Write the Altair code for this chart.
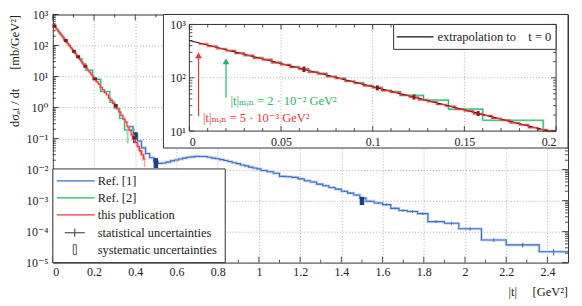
import altair as alt
import numpy as np
import pandas as pd

FONT = "Liberation Serif, DejaVu Serif, Times New Roman, serif"
BLUE, BLUE_L, BLUE_D = "#3d6cc0", "#a8bfe6", "#1d3f82"
GREEN, GREEN_L = "#27b56a", "#8fddb3"
RED, RED_L, RED_D = "#e8363c", "#f5a5a5", "#8c1a1f"
INK = "#222222"
FS = 12
SP = "\u00a0"

# ---------------- data ----------------
# this publication (red): histogram bins |t| [GeV^2] and dsigma/dt [mb/GeV^2]
red_edges = [round(x, 3) for x in np.arange(0.005, 0.2001, 0.005)] + \
            [round(x, 2) for x in np.arange(0.21, 0.4501, 0.01)]
red_vals = [430, 392, 350, 322, 286, 262, 233, 216, 191, 176, 157, 145, 128, 118, 105,
            97, 86, 79, 70.5, 65, 57.5, 53, 47, 43.5, 38.5, 35.5, 31.5, 29.2, 25.8, 23.9,
            21.1, 19.6, 17.3, 16.0, 14.2, 13.1, 11.6, 10.7, 9.5,
            8.4, 6.7, 5.7, 4.5, 3.75, 3.0, 2.55, 2.0, 1.7, 1.35, 1.15, 0.90, 0.72, 0.56,
            0.42, 0.34, 0.24, 0.185, 0.13, 0.105, 0.075, 0.055, 0.040, 0.030, 0.022]
red_stat_t = [0.355, 0.365, 0.375, 0.385, 0.395, 0.405, 0.415, 0.425, 0.435, 0.445]
red_stat_lo = [0.30, 0.21, 0.16, 0.11, 0.085, 0.058, 0.041, 0.028, 0.019, 0.012]
red_stat_hi = [0.38, 0.27, 0.21, 0.15, 0.125, 0.092, 0.070, 0.053, 0.042, 0.033]
red_sys_t = [0.0075, 0.0625, 0.1025, 0.1225, 0.1575, 0.205, 0.305, 0.395]
red_sys_lo = [385, 128, 58, 39, 19.2, 7.5, 1.0, 0.092]
red_sys_hi = [480, 162, 72, 48.5, 23.8, 9.4, 1.3, 0.12]

# Ref. [2] (green)
green_edges = [round(x, 3) for x in np.arange(0.02, 0.1151, 0.005)] + \
              [0.1277, 0.1413, 0.160, 0.193, 0.232, 0.276, 0.300, 0.324, 0.348, 0.397]
green_vals = [322, 296, 258, 240, 222, 198, 176, 162, 146, 128, 121, 107, 99, 86, 81,
              72, 66, 58, 55, 47, 38, 25.8, 16, 8.1, 3.3, 1.5, 0.95, 0.45, 0.19]
green_err_t = [0.363]
green_err_lo = [0.07]
green_err_hi = [0.21]

# Ref. [1] (blue)
blue_edges = [0.37, 0.39, 0.41, 0.43, 0.45, 0.47, 0.49, 0.51, 0.53, 0.55, 0.57, 0.59,
              0.61, 0.63, 0.65, 0.67, 0.69, 0.71, 0.73, 0.75, 0.77, 0.79, 0.81, 0.83,
              0.85, 0.87, 0.89, 0.91, 0.93, 0.95, 0.97, 0.99, 1.01, 1.04, 1.07, 1.10,
              1.13, 1.16, 1.19, 1.22, 1.25, 1.28, 1.31, 1.34, 1.37, 1.40, 1.43, 1.46,
              1.49, 1.52, 1.56, 1.60, 1.64, 1.68, 1.72, 1.77, 1.82, 1.90, 1.97, 2.08,
              2.20, 2.36, 2.50]
blue_vals = [0.240, 0.141, 0.0832, 0.0501, 0.0331, 0.0240, 0.0182, 0.0158, 0.0162,
             0.0174, 0.0191, 0.0204, 0.0219, 0.0234, 0.0251, 0.0257, 0.0269, 0.0263,
             0.0263, 0.0251, 0.0234, 0.0224, 0.0209, 0.0195, 0.0182, 0.0166, 0.0155,
             0.0141, 0.0132, 0.0120, 0.0112, 0.0105,
             0.00933, 0.00851, 0.00759, 0.00603, 0.00589, 0.00562, 0.00501, 0.00437,
             0.00398, 0.00339, 0.00302, 0.00263, 0.00234, 0.00200, 0.00174, 0.00151,
             0.00120,
             0.000955, 0.000832, 0.000741, 0.000562, 0.000479, 0.000447, 0.000380,
             0.000209, 0.000186, 0.000123, 0.0000537, 0.0000372, 0.0000224]
blue_stat_rel = [0.03, 0.03, 0.03, 0.035, 0.035, 0.035, 0.04, 0.04, 0.04, 0.045, 0.045,
                 0.05, 0.05, 0.055, 0.055, 0.06, 0.06, 0.065, 0.07, 0.07, 0.08, 0.08,
                 0.09, 0.09, 0.10, 0.11, 0.12, 0.14, 0.18, 0.25]
blue_sys_t = [0.40, 0.50, 1.50]
blue_sys_lo = [0.071, 0.0112, 0.00072]
blue_sys_hi = [0.16, 0.0234, 0.00132]

# extrapolation to t = 0 (black, inset)
extrap_t = [0.0, 0.196]
extrap_v = [500, 9.9]

# |t|_min arrows (inset)
arrow_t = [0.005, 0.020]
arrow_lo = [19, 42]
arrow_hi = [263, 204]
arrow_col = [RED, GREEN]
note_t = [0.0075, 0.0224]
note_v = [17.5, 36]
note_txt = ["|t|ₘᵢₙ = 5 · 10⁻³ GeV²", "|t|ₘᵢₙ = 2 · 10⁻² GeV²"]

legend_labels = ["Ref. [1]", "Ref. [2]", "this publication",
                 "statistical uncertainties", "systematic uncertainties"]
inset_legend_label = "extrapolation to" + SP * 4 + "t = 0"
x_title = "|t|" + SP * 5 + "[GeV²]"
y_title = "dσₑₗ / dt" + SP * 6 + "[mb/GeV²]"

main_x_major = [round(0.2 * i, 1) for i in range(13)]
main_x_minor = [round(0.1 + 0.2 * i, 1) for i in range(12)]
main_y_exps = list(range(-5, 4))
inset_x_major = [0, 0.05, 0.1, 0.15, 0.2]
inset_x_minor = [round(0.01 * i, 2) for i in range(1, 20) if i % 5]
inset_y_exps = [1, 2, 3]

# ---------------- helpers ----------------
W, H = 517, 249
IX0, IX1, IY0, IY1 = 137, 505, 117, 10   # inset plot area inside main plot (px)


def step_df(edges, vals):
    return pd.DataFrame({"t": list(edges[:-1]) + [edges[-1]],
                         "v": list(vals) + [vals[-1]]})


def clip_step(df, tmax):
    keep = df[df.t < tmax]
    return pd.concat([keep, pd.DataFrame({"t": [tmax], "v": [keep.v.iloc[-1]]})],
                     ignore_index=True)


sup = str.maketrans("-0123456789", "⁻⁰¹²³⁴⁵⁶⁷⁸⁹")


def log_expr(exps):
    parts = [f"datum.value < {3 * 10.0 ** e:g} ? '10{str(e).translate(sup)}'" for e in exps]
    return " : ".join(parts) + " : ''"


def minors(exps):
    return [k * 10.0 ** e for e in exps[:-1] for k in range(2, 10)]


sx = alt.Scale(domain=[0, 2.5], nice=False, zero=False)
sy = alt.Scale(type="log", domain=[1e-5, 1e3], nice=False)
ax_x = alt.Axis(values=main_x_major, format="~g", grid=True, ticks=False, domain=False,
                labelPadding=4, title=None)
ax_y = alt.Axis(values=[10.0 ** e for e in main_y_exps], labelExpr=log_expr(main_y_exps),
                grid=True, ticks=False, domain=False, labelPadding=5,
                title=y_title, titleAnchor="end", titleAlign="right",
                titleFontWeight="normal", titlePadding=4)

isx = alt.Scale(domain=[0, 0.2], range=[IX0, IX1], nice=False, zero=False)
isy = alt.Scale(type="log", domain=[10, 1000], range=[IY0, IY1], nice=False, clamp=True)
iax_x = alt.Axis(values=inset_x_major, format="~g", grid=False, ticks=False, domain=False,
                 orient="bottom", offset=-(H - IY0), labelPadding=5, title=None, zindex=1)
iax_y = alt.Axis(values=[10.0 ** e for e in inset_y_exps], labelExpr=log_expr(inset_y_exps),
                 grid=False, ticks=False, domain=False, orient="left", offset=-IX0,
                 labelPadding=4, title=None, zindex=1)


def mx(f):
    return alt.X(f, type="quantitative", scale=sx, axis=ax_x)


def my(f):
    return alt.Y(f, type="quantitative", scale=sy, axis=ax_y)


def ix(f):
    return alt.X(f, type="quantitative", scale=isx, axis=iax_x)


def iy(f):
    return alt.Y(f, type="quantitative", scale=isy, axis=iax_y)


one = pd.DataFrame({"k": [0]})


def vals_df(v):
    return pd.DataFrame({"v": v})


def xticks(vals, X, y0, y1):
    return alt.Chart(vals_df(vals)).mark_rule(color=INK, strokeWidth=0.8).encode(
        x=X("v"), y=alt.value(y0), y2=alt.value(y1))


def yticks(vals, Y, x0, x1):
    return alt.Chart(vals_df(vals)).mark_rule(color=INK, strokeWidth=0.8).encode(
        y=Y("v"), x=alt.value(x0), x2=alt.value(x1))


def step_line(df, X, Y, color, width=1.2, opacity=1.0):
    return alt.Chart(df).mark_line(interpolate="step-after", color=color,
                                   strokeWidth=width, opacity=opacity).encode(x=X("t"), y=Y("v"))


def err_rules(t, lo, hi, X, Y, color, width=1.0):
    df = pd.DataFrame({"t": t, "lo": lo, "hi": hi})
    return alt.Chart(df).mark_rule(color=color, strokeWidth=width, strokeCap="butt").encode(
        x=X("t"), y=Y("lo"), y2="hi")


# ---------------- main plot ----------------
red_df = step_df(red_edges, red_vals)
green_df = step_df(green_edges, green_vals)
blue_df = step_df(blue_edges, blue_vals)

bc = [(a + b) / 2 for a, b in zip(blue_edges[:-1], blue_edges[1:])]
n0 = len(blue_vals) - len(blue_stat_rel)
b_t = bc[n0:]
b_lo = [v * (1 - r) for v, r in zip(blue_vals[n0:], blue_stat_rel)]
b_hi = [v * (1 + r) for v, r in zip(blue_vals[n0:], blue_stat_rel)]

main_layers = [
    step_line(blue_df, mx, my, BLUE_L, 3, 0.6),
    step_line(blue_df, mx, my, BLUE, 1.1),
    err_rules(b_t, b_lo, b_hi, mx, my, BLUE, 1.0),
    err_rules(blue_sys_t, blue_sys_lo, blue_sys_hi, mx, my, BLUE_D, 4.5),
    step_line(green_df, mx, my, GREEN_L, 2.5, 0.5),
    step_line(green_df, mx, my, GREEN, 1.1),
    err_rules(green_err_t, green_err_lo, green_err_hi, mx, my, GREEN_L, 2),
    step_line(red_df, mx, my, RED_L, 2.5, 0.5),
    err_rules(red_stat_t, red_stat_lo, red_stat_hi, mx, my, RED_L, 1.5),
    step_line(red_df, mx, my, RED, 1.1),
    err_rules(red_sys_t, red_sys_lo, red_sys_hi, mx, my, RED_D, 4),
    xticks(main_x_major, mx, H, H - 6), xticks(main_x_minor, mx, H, H - 3),
    xticks(main_x_major, mx, 0, 6), xticks(main_x_minor, mx, 0, 3),
    yticks([10.0 ** e for e in main_y_exps], my, 0, 6), yticks(minors(main_y_exps), my, 0, 3),
    yticks([10.0 ** e for e in main_y_exps], my, W, W - 6), yticks(minors(main_y_exps), my, W, W - 3),
    # x axis title (right-aligned under the axis)
    alt.Chart(one).mark_text(align="right", baseline="middle", font=FONT, fontSize=FS + 0.5,
                             color=INK).encode(
        x=alt.value(W), y=alt.value(H + 30), text=alt.value(x_title)),
    # inset background frame
    alt.Chart(one).mark_rect(fill="white", stroke="#333", strokeWidth=1).encode(
        x=alt.value(111), x2=alt.value(W), y=alt.value(0), y2=alt.value(134)),
    # legend box
    alt.Chart(one).mark_rect(fill="white", stroke="#333", strokeWidth=1).encode(
        x=alt.value(0), x2=alt.value(173), y=alt.value(155), y2=alt.value(H)),
]
leg_y = [167, 184, 201, 219, 236]
for yy, col in zip(leg_y[:3], [BLUE, GREEN, RED]):
    main_layers.append(alt.Chart(one).mark_rule(color=col, strokeWidth=1.3).encode(
        x=alt.value(4), x2=alt.value(42), y=alt.value(yy)))
main_layers += [
    alt.Chart(one).mark_rule(color="#555", strokeWidth=1.2).encode(
        x=alt.value(12), x2=alt.value(32), y=alt.value(leg_y[3])),
    alt.Chart(one).mark_rule(color="#555", strokeWidth=1.2).encode(
        x=alt.value(22), y=alt.value(leg_y[3] - 4), y2=alt.value(leg_y[3] + 4)),
    alt.Chart(one).mark_rect(fill="white", stroke="#555", strokeWidth=1).encode(
        x=alt.value(20.5), x2=alt.value(23.5), y=alt.value(leg_y[4] - 5), y2=alt.value(leg_y[4] + 5)),
]
for yy, lab in zip(leg_y, legend_labels):
    main_layers.append(alt.Chart(one).mark_text(align="left", baseline="middle", font=FONT,
                                                fontSize=FS + 0.5, color=INK).encode(
        x=alt.value(45), y=alt.value(yy), text=alt.value(lab)))

main = alt.layer(*main_layers)

# ---------------- inset ----------------
red_in = clip_step(red_df, 0.2)
green_in = clip_step(green_df, 0.2)
extrap_df = pd.DataFrame({"t": extrap_t, "v": extrap_v})
arrow_df = pd.DataFrame({"t": arrow_t, "lo": arrow_lo, "hi": arrow_hi, "c": arrow_col})
note_df = pd.DataFrame({"t": note_t, "v": note_v, "txt": note_txt, "c": arrow_col})
rsys_in = [(t, lo, hi) for t, lo, hi in zip(red_sys_t, red_sys_lo, red_sys_hi) if t < 0.2]

inset_layers = [
    alt.Chart(vals_df([0.05, 0.1, 0.15])).mark_rule(color="#9a9a9a", strokeDash=[1, 2],
                                                     strokeWidth=0.8).encode(
        x=ix("v"), y=alt.value(IY0), y2=alt.value(IY1)),
    alt.Chart(vals_df([100.0])).mark_rule(color="#9a9a9a", strokeDash=[1, 2],
                                           strokeWidth=0.8).encode(
        y=iy("v"), x=alt.value(IX0), x2=alt.value(IX1)),
    step_line(green_in, ix, iy, GREEN_L, 2.5, 0.5),
    step_line(green_in, ix, iy, GREEN, 1.1),
    step_line(red_in, ix, iy, RED_L, 3, 0.5),
    alt.Chart(extrap_df).mark_line(color="#111", strokeWidth=1.1).encode(x=ix("t"), y=iy("v")),
    step_line(red_in, ix, iy, RED, 1.2),
    err_rules([r[0] for r in rsys_in[1:]], [r[1] for r in rsys_in[1:]],
              [r[2] for r in rsys_in[1:]], ix, iy, RED_D, 3),
    alt.Chart(arrow_df).mark_rule(strokeWidth=1.2).encode(
        x=ix("t"), y=iy("lo"), y2="hi", color=alt.Color("c:N", scale=None)),
    alt.Chart(arrow_df).mark_point(shape="triangle-up", filled=True, size=45, opacity=1).encode(
        x=ix("t"), y=iy("hi"), color=alt.Color("c:N", scale=None)),
    alt.Chart(note_df).mark_text(align="left", baseline="middle", font=FONT, fontSize=FS + 0.5).encode(
        x=ix("t"), y=iy("v"), text="txt:N", color=alt.Color("c:N", scale=None)),
    xticks(inset_x_major, ix, IY0, IY0 - 5), xticks(inset_x_minor, ix, IY0, IY0 - 3),
    xticks(inset_x_major, ix, IY1, IY1 + 5), xticks(inset_x_minor, ix, IY1, IY1 + 3),
    yticks([10.0 ** e for e in inset_y_exps], iy, IX0, IX0 + 5), yticks(minors(inset_y_exps), iy, IX0, IX0 + 3),
    yticks([10.0 ** e for e in inset_y_exps], iy, IX1, IX1 - 5), yticks(minors(inset_y_exps), iy, IX1, IX1 - 3),
    alt.Chart(one).mark_rect(fill=None, stroke="#333", strokeWidth=1).encode(
        x=alt.value(IX0), x2=alt.value(IX1), y=alt.value(IY1), y2=alt.value(IY0)),
    alt.Chart(one).mark_rect(fill="white", stroke="#333", strokeWidth=1).encode(
        x=alt.value(342), x2=alt.value(IX1), y=alt.value(IY1), y2=alt.value(35)),
    alt.Chart(one).mark_rule(color="#111", strokeWidth=1.1).encode(
        x=alt.value(345), x2=alt.value(382), y=alt.value(22.5)),
    alt.Chart(one).mark_text(align="left", baseline="middle", font=FONT, fontSize=FS + 0.5,
                             color=INK).encode(
        x=alt.value(386), y=alt.value(22.5), text=alt.value(inset_legend_label)),
]
inset = alt.layer(*inset_layers)

chart = alt.layer(main, inset).resolve_scale(x="independent", y="independent").properties(
    width=W, height=H,
    padding={"left": 0, "top": 0, "right": 0, "bottom": 0},
).configure_axis(
    labelFont=FONT, labelFontSize=FS, titleFont=FONT, titleFontSize=FS + 0.5,
    labelColor=INK, titleColor=INK, gridColor="#9a9a9a", gridDash=[1, 2], gridWidth=0.8
).configure_view(stroke="#333", strokeWidth=1).configure_text(font=FONT)

chart.save("out.html", embed_options={"renderer": "svg", "actions": False})
